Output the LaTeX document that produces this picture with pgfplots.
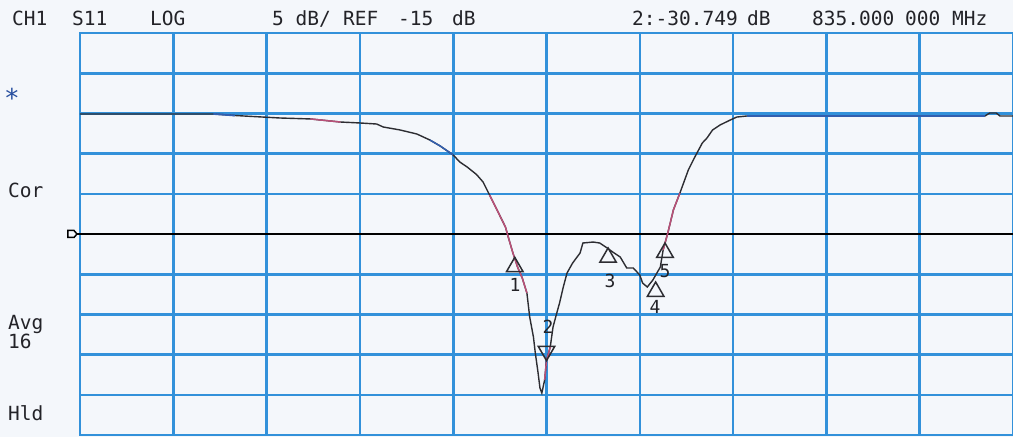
\documentclass[border=0pt]{standalone}
\usepackage{fontspec}
\usepackage{pgfplots}
\pgfplotsset{compat=1.18}
\usepackage{pgfplotstable}
\newfontfamily\mono{DejaVu Sans Mono}
\definecolor{bg}{RGB}{244,247,251}
\definecolor{gridc}{RGB}{50,145,218}
\definecolor{tr}{RGB}{45,45,50}
\definecolor{trred}{RGB}{185,80,120}
\definecolor{trblue}{RGB}{50,95,175}
\definecolor{txt}{RGB}{35,35,40}
\definecolor{star}{RGB}{40,80,160}

\pgfplotstableread{
x y
0.00 -0.07
1.43 -0.07
1.66 -0.26
2.14 -0.57
2.47 -0.69
2.79 -1.07
3.00 -1.19
3.18 -1.32
3.25 -1.69
3.43 -2.06
3.61 -2.56
3.75 -3.31
3.86 -4.05
4.00 -5.17
4.07 -6.04
4.15 -6.67
4.25 -7.60
4.32 -8.53
4.39 -10.15
4.47 -12.01
4.56 -14.13
4.59 -15.37
4.64 -17.36
4.69 -19.11
4.74 -20.47
4.79 -22.34
4.82 -25.33
4.86 -27.81
4.88 -29.80
4.91 -32.29
4.93 -34.16
4.95 -34.78
4.98 -33.16
5.00 -30.75
5.04 -29.06
5.07 -26.57
5.11 -24.83
5.14 -23.58
5.18 -21.59
5.22 -19.85
5.28 -18.61
5.36 -17.36
5.39 -16.12
5.50 -16.00
5.57 -16.12
5.65 -16.74
5.71 -17.24
5.79 -17.86
5.86 -19.23
5.93 -19.23
6.00 -20.10
6.03 -21.10
6.08 -21.59
6.14 -20.72
6.22 -19.11
6.25 -16.99
6.30 -14.88
6.36 -12.01
6.43 -9.90
6.52 -7.04
6.59 -5.42
6.67 -3.68
6.72 -3.06
6.78 -2.06
6.86 -1.44
6.97 -0.82
7.04 -0.45
7.15 -0.32
9.70 -0.32
9.75 0.05
9.82 0.05
9.86 -0.32
10.00 -0.32
}\trace

\begin{document}
\begin{tikzpicture}[x=1pt,y=1pt]
\fill[bg] (-80,-2) rectangle (933,435);
\useasboundingbox (-80,-2) rectangle (933,435);
\begin{axis}[at={(0,0)}, anchor=south west, scale only axis,
  width=933pt, height=402pt,
  xmin=0, xmax=10, ymin=-40, ymax=10,
  xtick={0,...,10}, ytick={-40,-35,...,10},
  xticklabel=\empty, yticklabel=\empty,
  tick style={draw=none},
  grid=major, grid style={gridc, line width=2.6pt},
  axis line style={gridc, line width=2.6pt},
  clip=false]
\addplot[black, line width=2.4pt] coordinates {(0,-15) (10,-15)};
\addplot[tr, line width=1.4pt] table {\trace};
\addplot[trred, line width=1.5pt, restrict x to domain=2.4:2.8] table {\trace};
\addplot[trred, line width=1.5pt, restrict x to domain=4.38:4.8] table {\trace};
\addplot[trred, line width=1.5pt, restrict x to domain=4.97:5.05] table {\trace};
\addplot[trred, line width=1.5pt, restrict x to domain=6.24:6.45] table {\trace};
\addplot[trblue, line width=1.8pt, restrict x to domain=1.43:1.95] table {\trace};
\addplot[trblue, line width=1.5pt, restrict x to domain=3.75:4.0] table {\trace};
\addplot[trblue, line width=2.0pt, restrict x to domain=7.1:9.7] table {\trace};
% markers 1,3,4,5
\addplot[only marks, mark=triangle, mark size=9.5pt,
  mark options={tr, line width=1.5pt, yshift=-9.5pt}]
  coordinates {(4.66,-17.9) (5.66,-16.74) (6.17,-20.97) (6.27,-16.12)};
% active marker 2
\addplot[only marks, mark=triangle, mark size=9.5pt,
  mark options={tr, line width=1.5pt, yshift=9.5pt, rotate=180}]
  coordinates {(5.0,-30.75)};
\end{axis}
% marker labels
\begin{scope}[every node/.style={font=\mono\fontsize{18}{18}\selectfont, text=txt, inner sep=0pt}]
\node at (435,150) {1};
\node at (468,108) {2};
\node at (530,154) {3};
\node at (575,128) {4};
\node at (585,164) {5};
\end{scope}
% reference marker
\draw[black, line width=1.5pt] (-12,197.5) -- (-12,204.5) -- (-6,204.5) -- (-3,201) -- (-6,197.5) -- cycle;
\draw[black, line width=1.5pt] (-3,201) -- (0,201);
% annotations
\begin{scope}[every node/.style={font=\mono\fontsize{19.5}{20}\selectfont, text=txt, inner sep=0pt, anchor=base west}]
\node at (-68,409) {CH1};
\node at (-8,409) {S11};
\node at (70,409) {LOG};
\node at (192,409) {5 dB/};
\node at (263,409) {REF};
\node at (318,409) {-15};
\node at (372,409) {dB};
\node at (552,409) {2:-30.749};
\node at (667,409) {dB};
\node at (732,409) {835.000};
\node at (825,409) {000};
\node at (872,409) {MHz};
\node at (-72,237) {Cor};
\node at (-72,106) {Avg};
\node at (-72,87) {16};
\node at (-72,15) {Hld};
\node[text=star, font=\mono\fontsize{26}{26}\selectfont] at (-76,327) {*};
\end{scope}
\end{tikzpicture}
\end{document}
